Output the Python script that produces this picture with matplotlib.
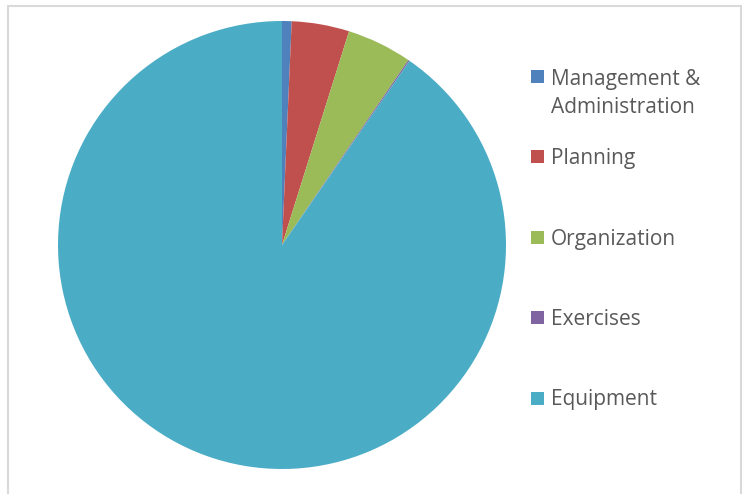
import matplotlib.pyplot as plt
from matplotlib.patches import Rectangle

# share of budget by category (percent)
categories = ['Management &\nAdministration', 'Planning', 'Organization',
              'Exercises', 'Equipment']
values = [0.69, 4.15, 4.70, 0.10, 90.36]
colors = ['#4F81BD', '#C0504D', '#9BBB59', '#8064A2', '#4BACC6']

W, H = 747, 494
fig = plt.figure(figsize=(W / 100, H / 100), dpi=100)
plt.rcParams['font.family'] = ['Open Sans', 'DejaVu Sans']

# chart frame
fig.patches.append(Rectangle((7.5 / W, -0.05), 733 / W, 1.05 - 5.5 / H,
                             transform=fig.transFigure, fill=False,
                             edgecolor='#D9D9D9', linewidth=1.5))

cx, cy, r = 282, 245, 224
ax = fig.add_axes([(cx - r) / W, (H - cy - r) / H, 2 * r / W, 2 * r / H])
ax.pie(values, colors=colors, startangle=90, counterclock=False, radius=1,
       wedgeprops={'linewidth': 0})
ax.set_xlim(-1, 1)
ax.set_ylim(-1, 1)
ax.set_aspect('equal')
ax.axis('off')

# legend drawn by hand to match the spacing of the original
y0, step, line_h = 76, 80.5, 29
for i, (label, c) in enumerate(zip(categories, colors)):
    yc = y0 + i * step
    fig.patches.append(Rectangle((531 / W, 1 - (yc + 6.5) / H), 13 / W, 13 / H,
                                 transform=fig.transFigure, facecolor=c,
                                 edgecolor='none'))
    n_extra = label.count('\n')
    base = yc + 7.5 + n_extra * line_h
    fig.text(551 / W, 1 - base / H, label, fontsize=15,
             color='#595959', va='baseline', ha='left', linespacing=1.4)

fig.savefig('out.png', dpi=100)
